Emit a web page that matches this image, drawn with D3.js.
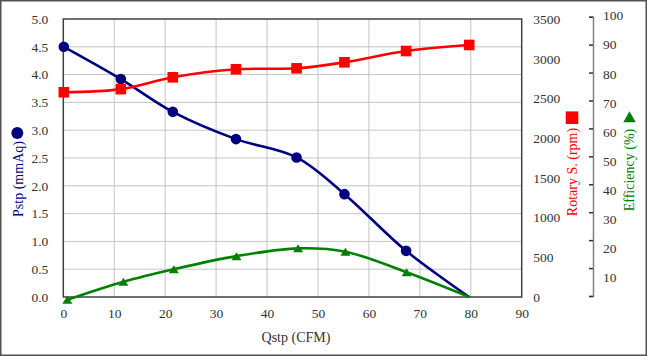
<!DOCTYPE html>
<html><head><meta charset="utf-8">
<script src="https://cdn.jsdelivr.net/npm/d3@7"></script>
<style>html,body{margin:0;padding:0;background:#fff;} svg{display:block;}</style>
</head><body>
<script>
// ---- data ----
const qstp       = [0.1, 11.3, 21.5, 33.9, 45.8, 55.2, 67.3, 79.7];
const effQstp    = [0.8, 11.8, 21.7, 34.0, 46.1, 55.4, 67.4, 79.7];
const pstp       = [4.5, 3.92, 3.33, 2.84, 2.51, 1.85, 0.83, 0];
const rotary     = [2578, 2617, 2766, 2867, 2879, 2955, 3097, 3173];
const efficiency = [-1.0, 5.5, 10.0, 14.7, 17.5, 16.3, 8.9, 0];
const xTicks   = [0,10,20,30,40,50,60,70,80,90];
const pTicks   = [0,0.5,1,1.5,2,2.5,3,3.5,4,4.5,5];
const rpmTicks = [0,500,1000,1500,2000,2500,3000,3500];
const effTicks = [0,10,20,30,40,50,60,70,80,90,100];
const titles = {x:"Qstp (CFM)", p:"Pstp (mmAq)", rpm:"Rotary S. (rpm)", eff:"Efficiency (%)"};

const W=647,H=356;
const L=63.3,R=521.7,T=19,B=297;
const font="'Liberation Serif','Times New Roman',serif";
const svg=d3.select("body").append("svg").attr("width",W).attr("height",H)
  .style("font-family",font);
svg.append("rect").attr("x",0.75).attr("y",0.75).attr("width",W-1.5).attr("height",H-1.5)
  .attr("fill","#fff").attr("stroke","#505050").attr("stroke-width",1.5);

const x=d3.scaleLinear().domain([0,90]).range([L,R]);
const yP=d3.scaleLinear().domain([0,5]).range([B,T]);
const yR=d3.scaleLinear().domain([0,3500]).range([B,T]);
const yE=d3.scaleLinear().domain([0,100]).range([B,T]);
const effAxisScale=d3.scaleLinear().domain([0,100]).range([296,16.7]);
const effLabelScale=d3.scaleLinear().domain([0,100]).range([307,16]);

// grid
const g=svg.append("g");
g.selectAll(".vg").data(xTicks.filter(d=>d>0&&d<90)).join("line")
  .attr("x1",d=>x(d)).attr("x2",d=>x(d)).attr("y1",T).attr("y2",B)
  .attr("stroke","#c4c4c4").attr("stroke-width",1);
g.selectAll(".hg").data(pTicks.filter(d=>d>0&&d<5)).join("line")
  .attr("x1",L).attr("x2",R).attr("y1",d=>yP(d)).attr("y2",d=>yP(d))
  .attr("stroke","#c4c4c4").attr("stroke-width",1);
svg.append("rect").attr("x",L).attr("y",T).attr("width",R-L).attr("height",B-T)
  .attr("fill","none").attr("stroke","#404040").attr("stroke-width",1.5);

const tickColor="#333";
function styleAxis(sel){sel.select(".domain").remove();sel.selectAll("text").attr("fill",tickColor).style("font-size","13.5px").style("font-family",font);}
svg.append("g").attr("transform",`translate(0,${B})`)
  .call(d3.axisBottom(x).tickValues(xTicks).tickSize(0).tickPadding(11).tickFormat(d3.format("d"))).call(styleAxis);
svg.append("g").attr("transform",`translate(${L},0)`)
  .call(d3.axisLeft(yP).tickValues(pTicks).tickSize(0).tickPadding(15).tickFormat(d3.format(".1f"))).call(styleAxis);
svg.append("g").attr("transform",`translate(${R},0)`)
  .call(d3.axisRight(yR).tickValues(rpmTicks).tickSize(0).tickPadding(11.5).tickFormat(d3.format("d"))).call(styleAxis);
// efficiency axis
const ea=svg.append("g").attr("transform",`translate(593,0)`)
  .call(d3.axisLeft(effAxisScale).tickValues(effTicks).tickSize(4).tickFormat(""));
ea.select(".domain").attr("stroke","#808080").attr("stroke-width",1.5);
ea.selectAll(".tick line").attr("stroke","#333").attr("stroke-width",1.5);
svg.append("g").selectAll("text").data(effTicks.filter(d=>d>0)).join("text")
  .attr("x",603).attr("y",d=>effLabelScale(d)).attr("dy","0.32em")
  .attr("fill",tickColor).style("font-size","13.5px").text(d=>d);

// titles
svg.append("text").attr("x",296).attr("y",337).attr("dy","0.35em").attr("text-anchor","middle")
  .attr("fill","#333").style("font-size","14px").text(titles.x);
svg.append("text").attr("transform","translate(18,179) rotate(-90)").attr("dy","0.35em").attr("text-anchor","middle")
  .attr("fill","#000080").style("font-size","14px").text(titles.p);
svg.append("circle").attr("cx",17.3).attr("cy",133).attr("r",6).attr("fill","#000080");
svg.append("text").attr("transform","translate(572,172) rotate(-90)").attr("dy","0.35em").attr("text-anchor","middle")
  .attr("fill","#ff0000").style("font-size","14px").text(titles.rpm);
svg.append("rect").attr("x",572-6.3).attr("y",117.7-6.3).attr("width",12.6).attr("height",12.6).attr("fill","#ff0000");
svg.append("text").attr("transform","translate(629.5,170) rotate(-90)").attr("dy","0.35em").attr("text-anchor","middle")
  .attr("fill","#008000").style("font-size","14px").text(titles.eff);
svg.append("path").attr("transform","translate(629.5,116.7)").attr("d","M0,-5.5L6.2,5.5L-6.2,5.5Z").attr("fill","#008000");

// series
const curve=d3.curveCatmullRom.alpha(0.5);
function series(xs,ys,yScale,color){
  const pts=xs.map((v,i)=>[x(v),yScale(ys[i])]);
  svg.append("path").attr("d",d3.line().curve(curve)(pts)).attr("fill","none")
    .attr("stroke",color).attr("stroke-width",2.6);
  return pts;
}
const pPts=series(qstp,pstp,yP,"#000080");
const ePts=series(effQstp,efficiency,yE,"#008000");
const rPts=series(qstp,rotary,yR,"#ff0000");

svg.append("g").selectAll("circle").data(pPts.slice(0,-1)).join("circle")
  .attr("cx",d=>d[0]).attr("cy",d=>d[1]).attr("r",5.3).attr("fill","#000080");
svg.append("g").selectAll("path").data(ePts.slice(0,-1)).join("path")
  .attr("transform",d=>`translate(${d[0]},${d[1]})`).attr("d","M0,-4L5,4L-5,4Z").attr("fill","#008000");
svg.append("g").selectAll("rect").data(rPts).join("rect")
  .attr("x",d=>d[0]-5.3).attr("y",d=>d[1]-5.3).attr("width",10.6).attr("height",10.6).attr("fill","#ff0000");
</script>
</body></html>
